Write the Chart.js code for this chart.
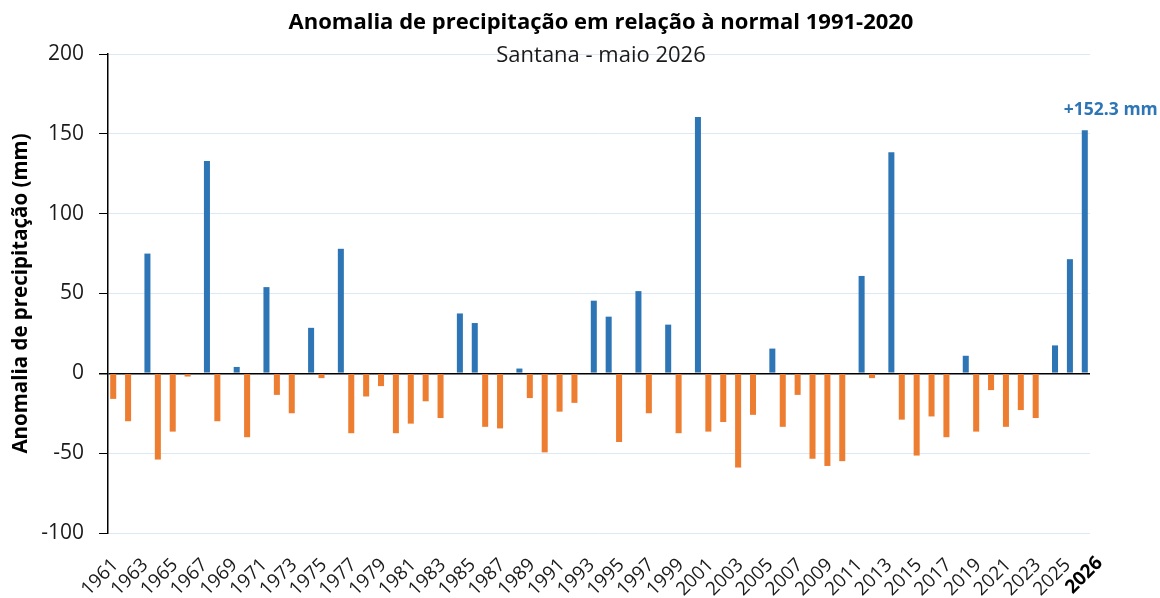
<!DOCTYPE html>
<html>
<head>
<meta charset="utf-8">
<script src="https://cdn.jsdelivr.net/npm/chart.js@4"></script>
<style>
  html, body { margin: 0; padding: 0; background: #fff; }
  #wrap { width: 1160px; height: 598px; position: relative; }
</style>
</head>
<body>
<div id="wrap"><canvas id="anomalyChart"></canvas></div>
<script>
// --- DATA ---
const years = [
  1961, 1962, 1963, 1964, 1965, 1966, 1967, 1968, 1969, 1970,
  1971, 1972, 1973, 1974, 1975, 1976, 1977, 1978, 1979, 1980,
  1981, 1982, 1983, 1984, 1985, 1986, 1987, 1988, 1989, 1990,
  1991, 1992, 1993, 1994, 1995, 1996, 1997, 1998, 1999, 2000,
  2001, 2002, 2003, 2004, 2005, 2006, 2007, 2008, 2009, 2010,
  2011, 2012, 2013, 2014, 2015, 2016, 2017, 2018, 2019, 2020,
  2021, 2022, 2023, 2024, 2025, 2026,
];

// anomaly (mm) vs 1991-2020 normal
const anomalies = [
  -16, -30, 75, -54, -36.5, -2, 133, -30, 4, -40,
  54, -13.5, -25, 28.5, -3, 78, -37.5, -14.5, -8, -37.5,
  -31.5, -17.5, -28, 37.5, 31.5, -33.5, -34.5, 3, -15.5, -49.5,
  -24, -18.5, 45.5, 35.5, -43, 51.5, -25, 30.5, -37.5, 160.5,
  -36.5, -30.5, -59, -26, 15.5, -33.5, -13.5, -53.5, -58, -55,
  61, -3, 138.5, -29, -51.5, -27, -40, 11, -36.5, -10.5,
  -33.5, -23, -28, 17.5, 71.5, 152.3,
];

const yTicks = [200, 150, 100, 50, 0, -50, -100];

const highlightYear = 2026;
const highlightLabel = "+152.3 mm";

const titleText = "Anomalia de precipitação em relação à normal 1991-2020";
const subtitleText = "Santana - maio 2026";
const yTitleText = "Anomalia de precipitação (mm)";

// split into the two Excel-style series
const deficit = anomalies.map((v) => (v < 0 ? v : null));
const surplus = anomalies.map((v) => (v >= 0 ? v : null));

const BLUE = "#2e75b6";
const ORANGE = "#ed7d31";
const GRID = "#dce8f4";
const FONT = "'Open Sans', 'Noto Sans', sans-serif";

// --- EXTRA TEXT (title, subtitle, value label, bold last year) ---
const annotations = {
  id: "annotations",
  afterDraw(chart) {
    const { ctx, chartArea, scales } = chart;
    const cx = 601;
    ctx.save();
    ctx.textAlign = "center";
    ctx.textBaseline = "middle";
    ctx.fillStyle = "#000";
    ctx.font = `bold 22px ${FONT}`;
    ctx.fillText(titleText, cx, 23);
    ctx.fillStyle = "#1a1a1a";
    ctx.font = `22px ${FONT}`;
    ctx.fillText(subtitleText, cx, 56);

    // value label above the last bar
    const idx = years.indexOf(highlightYear);
    const bar = chart.getDatasetMeta(1).data[idx];
    ctx.fillStyle = BLUE;
    ctx.font = `bold 17.5px ${FONT}`;
    ctx.fillText(highlightLabel, bar.x + 26, bar.y - 20);

    // bold 2026 tick label
    const x = scales.x.getPixelForValue(idx) + 17;
    const y = chartArea.bottom + 27;
    ctx.translate(x, y);
    ctx.rotate(-Math.PI / 4);
    ctx.textAlign = "right";
    ctx.fillStyle = "#000";
    ctx.font = `bold 19px ${FONT}`;
    ctx.fillText(String(highlightYear), 0, 0);
    ctx.restore();
  },
};

// --- CHART ---
function initAnomalyChart() {
  const ctx = document.getElementById("anomalyChart");

  new Chart(ctx, {
    type: "bar",
    data: {
      labels: years,
      datasets: [
        {
          label: "Abaixo da normal",
          data: deficit,
          backgroundColor: ORANGE,
          categoryPercentage: 0.6,
          barPercentage: 1.35,
        },
        {
          label: "Acima da normal",
          data: surplus,
          backgroundColor: BLUE,
          categoryPercentage: 0.6,
          barPercentage: 1.35,
        },
      ],
    },
    options: {
      responsive: true,
      maintainAspectRatio: false,
      animation: false,
      layout: { padding: { top: 54, right: 70, left: 0, bottom: 0 } },
      plugins: {
        legend: { display: false },
        tooltip: { enabled: false },
      },
      scales: {
        x: {
          grid: { display: false },
          border: { display: false },
          afterFit: (scale) => {
            scale.height = 65;
          },
          ticks: {
            autoSkip: false,
            maxRotation: 45,
            minRotation: 45,
            padding: 13,
            color: "#1a1a1a",
            font: { family: FONT, size: 19 },
            callback: (value, i) => {
              const yr = years[i];
              return (yr - 1961) % 2 === 0 && yr !== highlightYear ? String(yr) : "";
            },
          },
        },
        y: {
          min: -100,
          max: 200,
          afterFit: (scale) => {
            scale.width = 108;
          },
          afterBuildTicks: (scale) => {
            scale.ticks = yTicks.map((v) => ({ value: v }));
          },
          border: { display: true, color: "#000", width: 1.5 },
          grid: {
            color: (c) => (c.tick && c.tick.value === 0 ? "#000" : GRID),
            lineWidth: (c) => (c.tick && c.tick.value === 0 ? 1.5 : 1),
            tickColor: "#000",
            tickLength: 9,
          },
          ticks: {
            padding: 15,
            color: "#1a1a1a",
            font: { family: FONT, size: 21 },
          },
          title: {
            display: true,
            text: yTitleText,
            color: "#000",
            font: { family: FONT, size: 20.5, weight: "bold" },
            padding: { top: 9, bottom: 0 },
          },
        },
      },
    },
    plugins: [annotations],
  });
}

document.addEventListener("DOMContentLoaded", () => {
  initAnomalyChart();
});
</script>
</body>
</html>
